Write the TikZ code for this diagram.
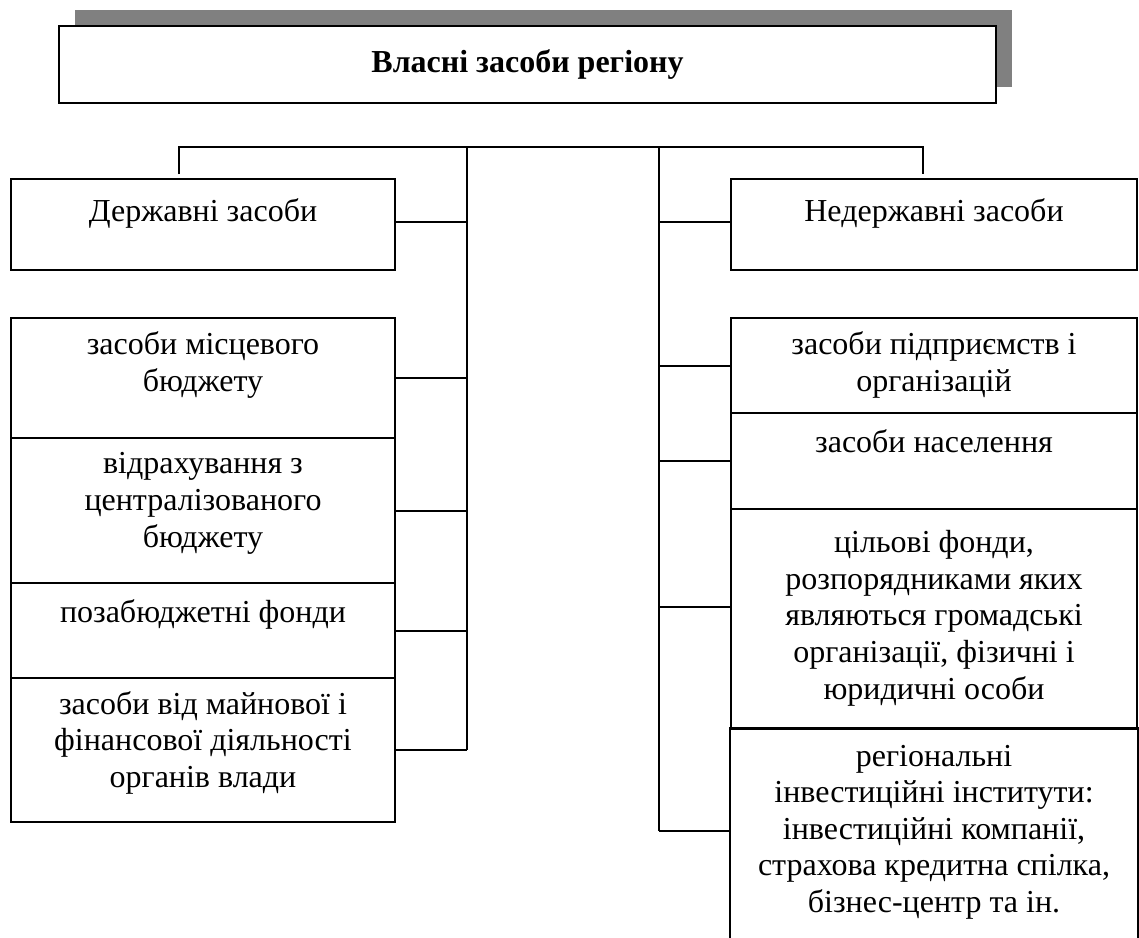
\documentclass[tikz,border=0pt]{standalone}
\usepackage{fontspec}
\setmainfont{Liberation Serif}
\usepackage{tikz}
\usetikzlibrary{positioning,shadows}

\tikzset{
    blk/.style={draw, line width=1pt, inner sep=0pt, minimum width=192pt},
    wideblk/.style={blk, minimum width=203pt},
    txt/.style={align=center, inner sep=0pt, font=\fontsize{16pt}{18.3pt}\selectfont,
        execute at begin node=\strut},
    wire/.style={line width=1pt}
}

\begin{document}
\begin{tikzpicture}[x=0.5pt, y=-0.5pt]
    \useasboundingbox (0,0) rectangle (1139,937);

    % Title with shadow
    \node [blk, minimum width=468.5pt, minimum height=38.5pt, fill=white,
        drop shadow={shadow xshift=8pt, shadow yshift=8pt, fill=gray, opacity=1},
        font=\fontsize{16pt}{18.3pt}\selectfont\bfseries] (title) at (527.5,64.5) {Власні засоби регіону};

    % State funds (left)
    \node [blk, minimum height=45.5pt] (gov) at (203,224.5) {};
    \node [blk, minimum height=60pt] (l1) at (203,378) {};
    \node [blk, minimum height=72.5pt] (l2) at (203,510.5) {};
    \node [blk, minimum height=47.5pt] (l3) at (203,630.5) {};
    \node [blk, minimum height=72pt] (l4) at (203,750) {};

    \node [txt, below=8.5pt of gov.north] (govt) {Державні засоби};
    \node [txt, below=7.3pt of l1.north] (l1t) {засоби місцевого\\бюджету};
    \node [txt, below=7.7pt of l2.north] (l2t) {відрахування з\\централізованого\\бюджету};
    \node [txt, below=7.3pt of l3.north] (l3t) {позабюджетні фонди};
    \node [txt, below=6.9pt of l4.north] (l4t) {засоби від майнової і\\фінансової діяльності\\органів влади};

    % Non-state funds (right)
    \node [wideblk, minimum height=45.5pt] (nongov) at (934,224.5) {};
    \node [wideblk, minimum height=47.5pt] (r1) at (934,365.5) {};
    \node [wideblk, minimum height=48pt] (r2) at (934,461) {};
    \node [wideblk, minimum height=110pt] (r3) at (934,619) {};
    \node [wideblk, draw=none, minimum height=104pt] (r4) at (934,833) {};
    \draw [wire] (r4.south west) -- (r4.north west) -- (r4.north east) -- (r4.south east);

    \node [txt, below=8.5pt of nongov.north] (nongovt) {Недержавні засоби};
    \node [txt, below=7.3pt of r1.north] (r1t) {засоби підприємств і\\організацій};
    \node [txt, below=7.3pt of r2.north] (r2t) {засоби населення};
    \node [txt, below=11pt of r3.north] (r3t) {цільові фонди,\\розпорядниками яких\\являються громадські\\організації, фізичні і\\юридичні особи};
    \node [txt, below=8.2pt of r4.north] (r4t) {регіональні\\інвестиційні інститути:\\інвестиційні компанії,\\страхова кредитна спілка,\\бізнес-центр та ін.};

    % Bus lines
    \coordinate (tl) at (179,147);
    \coordinate (tr) at (923,147);
    \coordinate (tlend) at (179,174);
    \coordinate (trend) at (923,174);
    \coordinate (bl) at (467,147);
    \coordinate (br) at (659,147);
    \coordinate (govw) at ([yshift=1.2pt]gov.east);
    \coordinate (nongovw) at ([yshift=1.2pt]nongov.west);
    \coordinate (r3w) at ([yshift=6pt]r3.west);
    \coordinate (r4w) at ([yshift=1pt]r4.west);
    \draw [wire] (tlend) -- (tl) -- (tr) -- (trend);
    \draw [wire] (bl) -- (bl |- l4.east);
    \draw [wire] (br) -- (br |- r4w);

    % Branches
    \draw [wire] (govw) -- (govw -| bl);
    \foreach \n in {l1,l2,l3,l4}
        \draw [wire] (\n.east) -- (\n.east -| bl);
    \draw [wire] (nongovw) -- (nongovw -| br);
    \foreach \n in {r1,r2}
        \draw [wire] (\n.west) -- (\n.west -| br);
    \draw [wire] (r3w) -- (r3w -| br);
    \draw [wire] (r4w) -- (r4w -| br);
\end{tikzpicture}
\end{document}
